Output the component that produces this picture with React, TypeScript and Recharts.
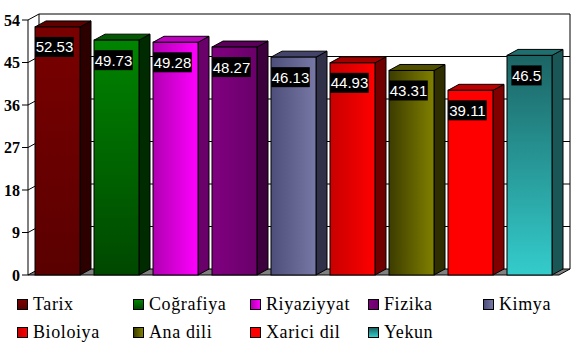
import React from 'react';
import { BarChart, Bar, XAxis, YAxis, CartesianGrid, LabelList } from 'recharts';

const subjects = ['Tarix', 'Coğrafiya', 'Riyaziyyat', 'Fizika', 'Kimya', 'Bioloiya', 'Ana dili', 'Xarici dil', 'Yekun'];
const scores = [52.53, 49.73, 49.28, 48.27, 46.13, 44.93, 43.31, 39.11, 46.5];
const yTicks = [0, 9, 18, 27, 36, 45, 54];

// front face gradients (from -> to), direction v = top to bottom, h = left to right
const frontFrom = ['#7a0000', '#008400', '#b000b0', '#800080', '#4e4e7a', '#c80000', '#3c3c00', '#ff0000', '#1c6464'];
const frontTo = ['#5a0000', '#004800', '#ff00ff', '#6a006a', '#7878a6', '#ff0000', '#808000', '#ff0000', '#34cccc'];
const frontDir = ['v', 'v', 'h', 'h', 'h', 'h', 'h', 'h', 'v'];
const sideColors = ['#2d0000', '#002a00', '#6a006a', '#3c003c', '#303048', '#700000', '#2e2e00', '#800000', '#1a5656'];
const topColors = ['#5c0000', '#005a00', '#c000c0', '#5a005a', '#44446a', '#a00000', '#505000', '#c00000', '#1f6f6f'];

const SERIF = 'Liberation Serif, Times New Roman, DejaVu Serif, serif';
const DX = 11;
const DY = 6;
const CHART_W = 579;
const CHART_H = 290;
const margin = { top: 20, right: 20, bottom: 15, left: 0 };

const data = subjects.map((name, i) => ({ name, value: scores[i], idx: i }));

function Bar3D(props: any) {
  const { x, y, width, height, payload } = props;
  const i = payload.idx;
  const r = x + width;
  const b = y + height;
  return (
    <g stroke="#000" strokeWidth={1}>
      <polygon points={`${r},${y} ${r + DX},${y - DY} ${r + DX},${b - DY} ${r},${b}`} fill={sideColors[i]} />
      <polygon points={`${x},${y} ${x + DX},${y - DY} ${r + DX},${y - DY} ${r},${y}`} fill={topColors[i]} />
      <rect x={x} y={y} width={width} height={height} fill={`url(#front${i})`} />
    </g>
  );
}

function ValueTag(props: any) {
  const { x, y, width, value } = props;
  const text = String(value);
  const digits = text.replace('.', '').length;
  const w = digits * 8.34 + (text.includes('.') ? 4.2 : 0) + 1;
  const cx = x + width / 2 - 3;
  const cy = y + 20;
  return (
    <g>
      <rect x={cx - w / 2} y={cy - 10} width={w} height={20} fill="#000" />
      <text x={cx} y={cy + 5.5} fill="#fff" textAnchor="middle" fontFamily="Liberation Sans, Arial, sans-serif" fontSize={15}>
        {text}
      </text>
    </g>
  );
}

function YTick(props: any) {
  const { x, y, payload } = props;
  return (
    <text x={x} y={y + 5.5} textAnchor="end" fill="#000" fontSize={16} fontWeight="bold" fontFamily={SERIF}>
      {payload.value}
    </text>
  );
}

const gridLine = (p: any) => {
  const { x1, y1, x2, index } = p;
  const bx1 = x1 + DX;
  const bx2 = x2 + DX;
  const by = y1 - DY;
  const wallTop = margin.top - DY;
  return (
    <g key={`g-${index}`}>
      {index === 0 && (
        <polygon points={`${x1},${y1} ${x2},${y1} ${bx2},${by} ${bx1},${by}`} fill="#808080" stroke="none" />
      )}
      <path d={`M${x1},${y1} L${bx1},${by} L${bx2},${by}`} stroke="#000" fill="none" />
      {index === 0 && (
        <path
          d={`M${bx1},${by} L${bx1},${wallTop} M${bx2},${by} L${bx2},${wallTop} M${x1},${y1} L${x2},${y1} L${bx2},${by}`}
          stroke="#000"
          fill="none"
        />
      )}
    </g>
  );
};

function swatchBg(i: number) {
  const dir = frontDir[i] === 'h' ? 'to right' : 'to bottom';
  return `linear-gradient(${dir}, ${frontFrom[i]}, ${frontTo[i]})`;
}

export default function App() {
  return (
    <div style={{ position: 'absolute', left: 0, top: 0, width: CHART_W, height: 351, background: '#fff' }}>
      <BarChart width={CHART_W} height={CHART_H} data={data} margin={margin}>
        <defs>
          {subjects.map((s, i) => (
            <linearGradient
              key={s}
              id={`front${i}`}
              x1="0"
              y1="0"
              x2={frontDir[i] === 'h' ? '1' : '0'}
              y2={frontDir[i] === 'v' ? '1' : '0'}
            >
              <stop offset="0" stopColor={frontFrom[i]} />
              <stop offset="1" stopColor={frontTo[i]} />
            </linearGradient>
          ))}
        </defs>
        <CartesianGrid vertical={false} horizontal={gridLine} />
        <XAxis dataKey="name" hide />
        <YAxis
          domain={[0, 54]}
          ticks={yTicks}
          interval={0}
          width={28}
          tickSize={6}
          axisLine={{ stroke: '#000' }}
          tickLine={{ stroke: '#000' }}
          tick={<YTick />}
        />
        <Bar dataKey="value" barSize={45} shape={Bar3D} isAnimationActive={false}>
          <LabelList dataKey="value" content={ValueTag} />
        </Bar>
      </BarChart>
      <div
        style={{
          position: 'absolute',
          left: 17,
          top: 290,
          display: 'grid',
          gridTemplateColumns: '116px 117px 118px 115px 90px',
          gridAutoRows: '28px',
          fontFamily: SERIF,
          fontSize: 18,
          letterSpacing: 0.6,
          color: '#000',
        }}
      >
        {subjects.map((s, i) => (
          <div key={s} style={{ display: 'flex', alignItems: 'center', whiteSpace: 'nowrap' }}>
            <span
              style={{
                display: 'inline-block',
                width: 11,
                height: 11,
                boxSizing: 'border-box',
                border: '1px solid #000',
                background: swatchBg(i),
                marginRight: 5,
              }}
            />
            <span>{s}</span>
          </div>
        ))}
      </div>
    </div>
  );
}
